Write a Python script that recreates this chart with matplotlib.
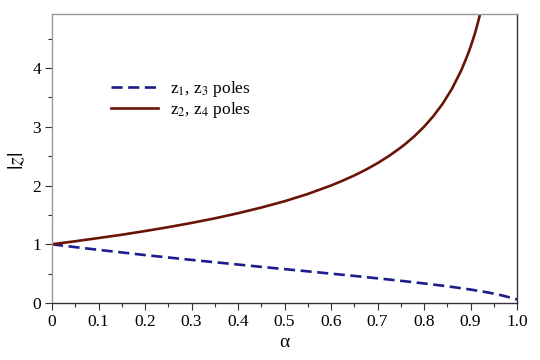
import matplotlib
matplotlib.use("Agg")
import matplotlib.pyplot as plt
from matplotlib.ticker import MultipleLocator

plt.rcParams['font.family'] = ['Liberation Serif', 'DejaVu Serif']
plt.rcParams['mathtext.fontset'] = 'stix'
plt.rcParams['lines.scale_dashes'] = False

alpha_13 = [0.0, 0.05, 0.1, 0.15, 0.2, 0.25, 0.3, 0.35, 0.4, 0.45, 0.5, 0.55,
            0.6, 0.65, 0.7, 0.75, 0.8, 0.85, 0.9, 0.925, 0.95, 0.96, 0.97, 0.98,
            0.99, 1.0]
z13 = [1.00, 0.951, 0.905, 0.861, 0.816, 0.775, 0.734, 0.694, 0.655, 0.615, 0.577, 0.539,
       0.500, 0.461, 0.420, 0.378, 0.333, 0.285, 0.229, 0.197, 0.160, 0.143, 0.124, 0.104,
       0.080, 0.06]

alpha_24 = [0.0, 0.05, 0.1, 0.15, 0.2, 0.25, 0.3, 0.35, 0.4, 0.45, 0.5, 0.55,
            0.6, 0.625, 0.65, 0.675, 0.7, 0.725, 0.75, 0.76, 0.78, 0.8, 0.82, 0.84,
            0.86, 0.88, 0.89, 0.895, 0.9, 0.905, 0.91, 0.915, 0.92, 0.925]
z24 = [1.00, 1.051, 1.106, 1.162, 1.225, 1.291, 1.363, 1.441, 1.528, 1.625, 1.732, 1.856,
       2.000, 2.082, 2.171, 2.270, 2.380, 2.505, 2.646, 2.708, 2.844, 3.000, 3.180, 3.391,
       3.645, 3.958, 4.149, 4.248, 4.359, 4.478, 4.601, 4.746, 4.899, 5.066]

fig = plt.figure(figsize=(5.4, 3.6), dpi=100)
ax = fig.add_axes([52/540, 1-303/360, (517-52)/540, (303-14)/360])

ax.plot(alpha_13, z13, color='#1c1c8a', lw=1.9, dashes=(8, 4),
        label=r'z$_1$, z$_3$ poles')
ax.plot(alpha_24, z24, color='#6a1408', lw=1.9, label=r'z$_2$, z$_4$ poles')

ax.set_xlim(0, 1.0)
ax.set_ylim(0, 4.92)
ax.xaxis.set_minor_locator(MultipleLocator(0.05))
ax.yaxis.set_major_locator(MultipleLocator(1))
ax.yaxis.set_minor_locator(MultipleLocator(0.5))
ax.set_xticks([0, 0.1, 0.2, 0.3, 0.4, 0.5, 0.6, 0.7, 0.8, 0.9, 1.0])
ax.set_xticklabels(['0', '0.1', '0.2', '0.3', '0.4', '0.5', '0.6', '0.7', '0.8', '0.9', '1.0'])
ax.tick_params(which='both', direction='out', top=False, right=False,
               labelsize=12.5, color='#333333')
ax.tick_params(which='major', length=5, width=0.8, pad=3)
ax.tick_params(which='minor', length=3, width=0.8)

ax.spines['left'].set_color('#999999')
ax.spines['top'].set_color('#999999')
ax.spines['bottom'].set_color('#333333')
ax.spines['right'].set_color('#333333')
for s in ax.spines.values():
    s.set_linewidth(1.0)

ax.set_xlabel('α', fontsize=14, labelpad=3)
ax.set_ylabel(r'$|z|$', fontsize=16)
ax.yaxis.set_label_coords(-0.05, 0.49)

ax.legend(loc='upper left', bbox_to_anchor=(0.093, 0.83), frameon=False,
          fontsize=12.5, handlelength=2.7, handletextpad=0.7, labelspacing=0.05)

fig.savefig('out.png', dpi=100)
